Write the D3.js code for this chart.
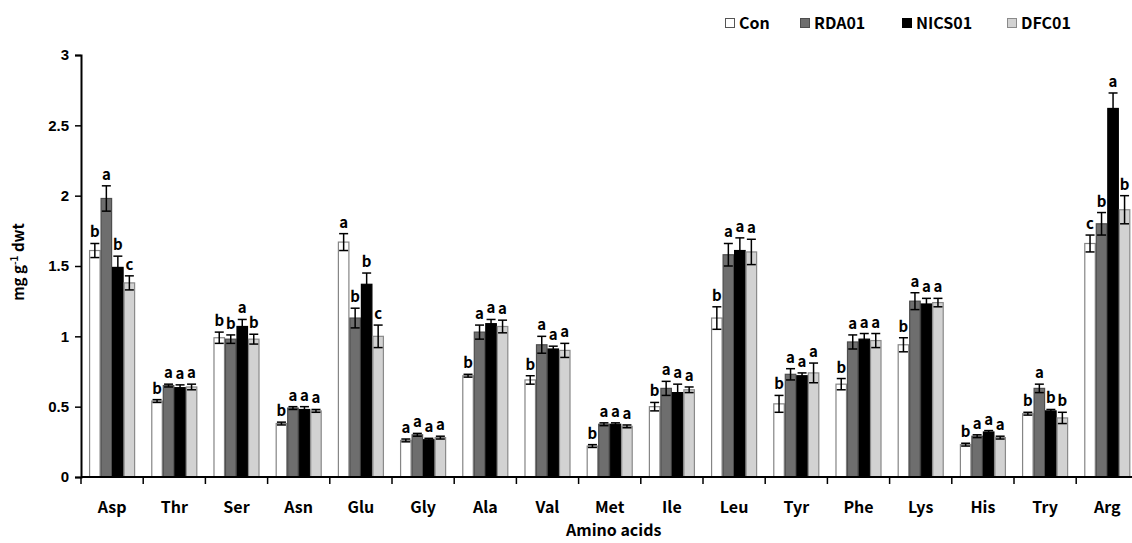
<!DOCTYPE html>
<html>
<head>
<meta charset="utf-8">
<script src="https://cdn.jsdelivr.net/npm/d3@7"></script>
<style>
  html, body { margin: 0; padding: 0; background: #fff; }
  svg { display: block; font-family: "Noto Sans CJK KR", "Noto Sans", sans-serif; font-weight: 700; }
</style>
</head>
<body>
<svg id="chart" width="1132" height="543"></svg>
<script>
// Amino acid content (mg g-1 dwt) under four treatments
const categories = ["Asp", "Thr", "Ser", "Asn", "Glu", "Gly", "Ala", "Val", "Met", "Ile", "Leu", "Tyr", "Phe", "Lys", "His", "Try", "Arg"];
const seriesNames = ["Con", "RDA01", "NICS01", "DFC01"];

const conValues  = [1.61, 0.54, 0.99, 0.38, 1.67, 0.26, 0.72, 0.69, 0.22, 0.50, 1.13, 0.52, 0.66, 0.94, 0.23, 0.45, 1.66];
const rdaValues  = [1.98, 0.65, 0.98, 0.49, 1.13, 0.30, 1.03, 0.94, 0.375, 0.63, 1.58, 0.73, 0.96, 1.25, 0.29, 0.63, 1.80];
const nicsValues = [1.49, 0.635, 1.07, 0.48, 1.37, 0.265, 1.09, 0.91, 0.375, 0.60, 1.61, 0.72, 0.98, 1.23, 0.32, 0.47, 2.62];
const dfcValues  = [1.38, 0.64, 0.98, 0.47, 1.00, 0.28, 1.07, 0.90, 0.36, 0.62, 1.60, 0.74, 0.97, 1.24, 0.28, 0.42, 1.90];

const conErr  = [0.05, 0.01, 0.04, 0.01, 0.06, 0.01, 0.01, 0.03, 0.01, 0.03, 0.08, 0.06, 0.04, 0.05, 0.01, 0.01, 0.06];
const rdaErr  = [0.09, 0.01, 0.03, 0.01, 0.07, 0.01, 0.05, 0.06, 0.01, 0.05, 0.08, 0.04, 0.05, 0.06, 0.01, 0.03, 0.08];
const nicsErr = [0.08, 0.02, 0.05, 0.02, 0.08, 0.01, 0.03, 0.02, 0.01, 0.06, 0.09, 0.02, 0.04, 0.04, 0.01, 0.01, 0.11];
const dfcErr  = [0.05, 0.02, 0.035, 0.01, 0.08, 0.01, 0.045, 0.05, 0.01, 0.02, 0.09, 0.07, 0.05, 0.03, 0.01, 0.04, 0.10];

// Significance letters (Duncan grouping) per series
const conLetters  = ["b", "b", "b", "b", "a", "a", "b", "b", "b", "b", "b", "b", "b", "b", "b", "b", "c"];
const rdaLetters  = ["a", "a", "b", "a", "b", "a", "a", "a", "a", "a", "a", "a", "a", "a", "a", "a", "b"];
const nicsLetters = ["b", "a", "a", "a", "b", "a", "a", "a", "a", "a", "a", "a", "a", "a", "a", "b", "a"];
const dfcLetters  = ["c", "a", "b", "a", "c", "a", "a", "a", "a", "a", "a", "a", "a", "a", "a", "b", "b"];

const yTicks = [0, 0.5, 1, 1.5, 2, 2.5, 3];

const seriesValues  = [conValues, rdaValues, nicsValues, dfcValues];
const seriesErrors  = [conErr, rdaErr, nicsErr, dfcErr];
const seriesLetters = [conLetters, rdaLetters, nicsLetters, dfcLetters];
const fills   = ["#ffffff", "#6e6e6e", "#000000", "#d2d2d2"];
const strokes = ["#858585", "#4d4d4d", "#000000", "#8a8a8a"];

const svg = d3.select("#chart");
const plotLeft = 81, plotRight = 1138.4, plotTop = 55, plotBottom = 477;

const x0 = d3.scaleBand().domain(categories).range([plotLeft, plotRight]).paddingInner(0.26).paddingOuter(0.13);
const x1 = d3.scaleBand().domain(seriesNames).range([0, x0.bandwidth()]);
const y = d3.scaleLinear().domain([0, 3]).range([plotBottom, plotTop]);

// Bars, error bars and letters
const rows = [];
categories.forEach((c, i) => {
  seriesNames.forEach((s, j) => {
    rows.push({ cat: c, s, j, v: seriesValues[j][i], e: seriesErrors[j][i], l: seriesLetters[j][i] });
  });
});

const g = svg.append("g");
g.selectAll("rect.bar").data(rows).join("rect")
  .attr("class", "bar")
  .attr("x", d => x0(d.cat) + x1(d.s) + 0.5)
  .attr("y", d => y(d.v))
  .attr("width", x1.bandwidth() - 1)
  .attr("height", d => y(0) - y(d.v))
  .attr("fill", d => fills[d.j])
  .attr("stroke", d => strokes[d.j])
  .attr("stroke-width", 1.2);

const cx = d => x0(d.cat) + x1(d.s) + x1.bandwidth() / 2;
const eb = g.append("g").attr("stroke", "#000").attr("stroke-width", 1.5);
eb.selectAll("line.v").data(rows).join("line")
  .attr("x1", cx).attr("x2", cx)
  .attr("y1", d => y(d.v + d.e)).attr("y2", d => y(d.v - d.e));
eb.selectAll("line.t").data(rows).join("line")
  .attr("x1", d => cx(d) - 4.5).attr("x2", d => cx(d) + 4.5)
  .attr("y1", d => y(d.v + d.e)).attr("y2", d => y(d.v + d.e));
eb.selectAll("line.b").data(rows).join("line")
  .attr("x1", d => cx(d) - 4.5).attr("x2", d => cx(d) + 4.5)
  .attr("y1", d => y(d.v - d.e)).attr("y2", d => y(d.v - d.e));

g.selectAll("text.sig").data(rows).join("text")
  .attr("class", "sig")
  .attr("x", cx)
  .attr("y", d => y(d.v + d.e) - 6)
  .attr("text-anchor", "middle")
  .attr("font-size", 15)
  .attr("fill", "#000")
  .text(d => d.l);

// Y axis
const yAxis = svg.append("g")
  .attr("transform", `translate(${plotLeft},0)`)
  .call(d3.axisLeft(y).tickValues(yTicks).tickFormat(d3.format("~g")).tickSize(6).tickPadding(6));
yAxis.select(".domain").attr("stroke", "#000").attr("stroke-width", 2);
yAxis.selectAll(".tick line").attr("stroke", "#000").attr("stroke-width", 1.5);
yAxis.selectAll(".tick text").attr("font-size", 15).attr("font-family", null).attr("fill", "#000");

// X axis: line, boundary ticks, category labels
const xg = svg.append("g");
xg.append("line").attr("x1", plotLeft).attr("x2", plotRight).attr("y1", y(0)).attr("y2", y(0))
  .attr("stroke", "#000").attr("stroke-width", 2);
const bounds = d3.range(categories.length + 1).map(i => plotLeft + i * x0.step());
xg.selectAll("line.tk").data(bounds).join("line")
  .attr("x1", d => d).attr("x2", d => d)
  .attr("y1", y(0)).attr("y2", y(0) + 7)
  .attr("stroke", "#000").attr("stroke-width", 1.5);
xg.selectAll("text.cat").data(categories).join("text")
  .attr("x", d => x0(d) + x0.bandwidth() / 2)
  .attr("y", 513)
  .attr("text-anchor", "middle")
  .attr("font-size", 16)
  .text(d => d);

// Axis titles
svg.append("text")
  .attr("x", (plotLeft + plotRight) / 2 + 4).attr("y", 536)
  .attr("text-anchor", "middle").attr("font-size", 16)
  .text("Amino acids");
const yt = svg.append("text")
  .attr("transform", "translate(24,262) rotate(-90)")
  .attr("text-anchor", "middle").attr("font-size", 15);
yt.append("tspan").text("mg g");
yt.append("tspan").attr("dy", -6).attr("font-size", 10).text("-1");
yt.append("tspan").attr("dy", 6).text(" dwt");

// Legend
const legendX = [725, 800, 902, 1007];
const lg = svg.append("g");
seriesNames.forEach((s, j) => {
  lg.append("rect").attr("x", legendX[j] + 0.5).attr("y", 18.5).attr("width", 9).attr("height", 9)
    .attr("fill", fills[j]).attr("stroke", j === 0 ? "#555" : strokes[j]).attr("stroke-width", 1);
  lg.append("text").attr("x", legendX[j] + 14).attr("y", 29).attr("font-size", 16).text(s);
});
</script>
</body>
</html>
